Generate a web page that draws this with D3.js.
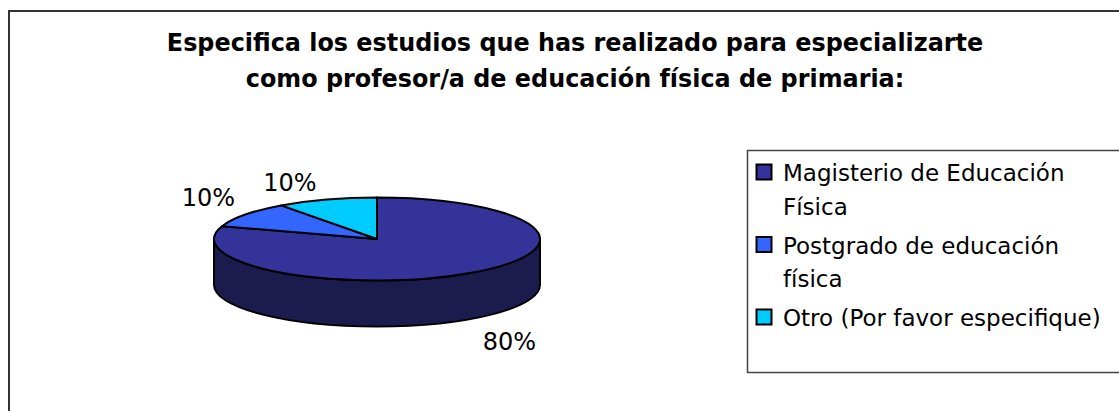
<!DOCTYPE html>
<html>
<head>
<meta charset="utf-8">
<script src="https://cdn.jsdelivr.net/npm/d3@7"></script>
<style>
  html, body { margin: 0; padding: 0; background: #ffffff; }
  svg { display: block; font-family: "DejaVu Sans", Verdana, sans-serif; }
</style>
</head>
<body>
<svg id="chart" width="1119" height="411"></svg>
<script>
// Survey answers: studies taken to specialise as a primary PE teacher
const titleLines = [
  "Especifica los estudios que has realizado para especializarte",
  "como profesor/a de educación física de primaria:"
];
const categories = [
  "Magisterio de Educación Física",
  "Postgrado de educación física",
  "Otro (Por favor especifique)"
];
const values = [80, 10, 10];
const legendLines = [
  ["Magisterio de Educación", "Física"],
  ["Postgrado de educación", "física"],
  ["Otro (Por favor especifique)"]
];
const topColors  = ["#333399", "#3366FF", "#00CCFF"];
const sideColors = ["#1b1b4d", "#1f3d99", "#007a99"];

const W = 1119, H = 411;
const svg = d3.select("#chart");

// outer chart frame (runs past the right and bottom edges)
svg.append("rect")
  .attr("x", 9).attr("y", 11)
  .attr("width", W + 20).attr("height", H + 20)
  .attr("fill", "#ffffff").attr("stroke", "#333333").attr("stroke-width", 2);

// title, sized so the first line spans its full width
const title = svg.append("g").attr("font-weight", "bold").attr("fill", "#000");
titleLines.forEach((t, i) => {
  title.append("text")
    .attr("x", 575).attr("y", 51 + i * 36)
    .attr("text-anchor", "middle")
    .attr("font-size", 21)
    .text(t);
});
{
  const nodes = title.selectAll("text").nodes();
  const size = 21 * 817 / nodes[0].getComputedTextLength();
  title.selectAll("text").attr("font-size", size);
}

// 3D pie geometry
const cx = 377, cy = 239, rx = 163, ry = 41.5, depth = 46;
const pie = d3.pie().sort(null).value(d => d);
const arcs = pie(values);
const total = d3.sum(values);
const pt = (a, dy = 0) => [cx + rx * Math.sin(a), cy - ry * Math.cos(a) + dy];
const fmt = d3.format(".0%");

const pieG = svg.append("g").attr("stroke", "#000").attr("stroke-width", 2).attr("stroke-linejoin", "round");

// side walls: only the front half (PI/2 .. 3PI/2) is visible
arcs.forEach((d, i) => {
  const s = Math.max(d.startAngle, Math.PI / 2);
  const e = Math.min(d.endAngle, 3 * Math.PI / 2);
  if (e <= s) return;
  const p1 = pt(s), p2 = pt(e), b1 = pt(s, depth), b2 = pt(e, depth);
  const large = (e - s) > Math.PI ? 1 : 0;
  const path = `M${p1[0]},${p1[1]} L${b1[0]},${b1[1]} ` +
    `A${rx},${ry} 0 ${large} 1 ${b2[0]},${b2[1]} L${p2[0]},${p2[1]} ` +
    `A${rx},${ry} 0 ${large} 0 ${p1[0]},${p1[1]} Z`;
  pieG.append("path").attr("d", path).attr("fill", sideColors[i]);
});

// top faces
arcs.forEach((d, i) => {
  const p1 = pt(d.startAngle), p2 = pt(d.endAngle);
  const large = (d.endAngle - d.startAngle) > Math.PI ? 1 : 0;
  const path = `M${cx},${cy} L${p1[0]},${p1[1]} A${rx},${ry} 0 ${large} 1 ${p2[0]},${p2[1]} Z`;
  pieG.append("path").attr("d", path).attr("fill", topColors[i]);
});

// percentage labels placed just outside the rim at each slice's mid angle
const labG = svg.append("g").attr("font-size", 24).attr("fill", "#000");
arcs.forEach((d, i) => {
  const m = (d.startAngle + d.endAngle) / 2;
  const front = Math.cos(m) < 0;
  const p = pt(m, front ? depth : 0);
  const right = Math.sin(m) >= 0;
  const x = p[0] + (right ? 10 : -10);
  const y = Math.cos(m) > 0 ? p[1] - 9 : p[1] + 31;
  labG.append("text")
    .attr("x", x).attr("y", y)
    .attr("text-anchor", right ? "start" : "end")
    .text(fmt(d.data / total));
});

// legend box (runs past the right edge)
svg.append("rect")
  .attr("x", 747.5).attr("y", 150.5)
  .attr("width", 400).attr("height", 222)
  .attr("fill", "#ffffff").attr("stroke", "#444444").attr("stroke-width", 1.5);

const legG = svg.append("g").attr("font-size", 23).attr("fill", "#000");
let baseline = 181;
categories.forEach((c, i) => {
  legG.append("rect")
    .attr("x", 756.5).attr("y", baseline - 16.5)
    .attr("width", 15).attr("height", 15)
    .attr("fill", topColors[i]).attr("stroke", "#000").attr("stroke-width", 2);
  legendLines[i].forEach((line, j) => {
    legG.append("text")
      .attr("x", 783).attr("y", baseline + j * 33.5)
      .text(line);
  });
  baseline += (legendLines[i].length - 1) * 33.5 + 39;
});
</script>
</body>
</html>
